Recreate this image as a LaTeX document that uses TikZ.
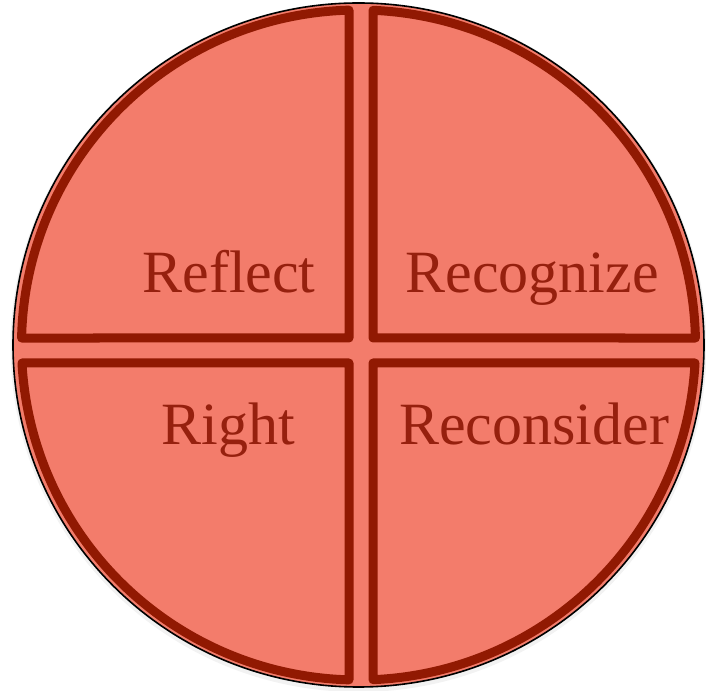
\documentclass[tikz,border=0pt]{standalone}
\usepackage{fontspec}
\setmainfont{Liberation Serif}
\definecolor{salmon}{RGB}{243,124,107}
\definecolor{darkred}{RGB}{145,25,2}
\definecolor{textred}{RGB}{150,32,14}
\tikzset{
  quad/.style={draw=darkred, line width=9pt, line join=round},
  word/.style={text=textred, font=\fontsize{60}{72}\selectfont, anchor=base, inner sep=0pt},
}
\begin{document}
\begin{tikzpicture}[x=1pt,y=1pt]
\useasboundingbox (0,0) rectangle (706,690);
% outer disc with faint shadow
\fill[black!5] (358.5,343) ellipse [x radius=348, y radius=345];
\filldraw[fill=salmon, draw=black, line width=1.6pt] (358.5,345) ellipse [x radius=345.5, y radius=342];
% quadrants
\draw[quad] (349,352) -- ([shift={(358.5,345)}]91.615:337 and 335)
  arc[start angle=91.615, end angle=178.803, x radius=337, y radius=335] -- cycle;
\draw[quad] (373,352) -- ([shift={(358.5,345)}]87.534:337 and 335)
  arc[start angle=87.534, end angle=1.197, x radius=337, y radius=335] -- cycle;
\draw[quad] (349,327) -- ([shift={(358.5,345)}]183.080:337 and 335)
  arc[start angle=183.080, end angle=268.385, x radius=337, y radius=335] -- cycle;
\draw[quad] (373,327) -- ([shift={(358.5,345)}]272.466:337 and 335)
  arc[start angle=272.466, end angle=356.920, x radius=337, y radius=335] -- cycle;
% labels
\node[word] (reflect) at (229,397) {Reflect};
\node[word] (recognize) at (532,397) {Recognize};
\node[word] (right) at (228,245) {Right};
\node[word] (reconsider) at (534,245) {Reconsider};
\end{tikzpicture}
\end{document}
